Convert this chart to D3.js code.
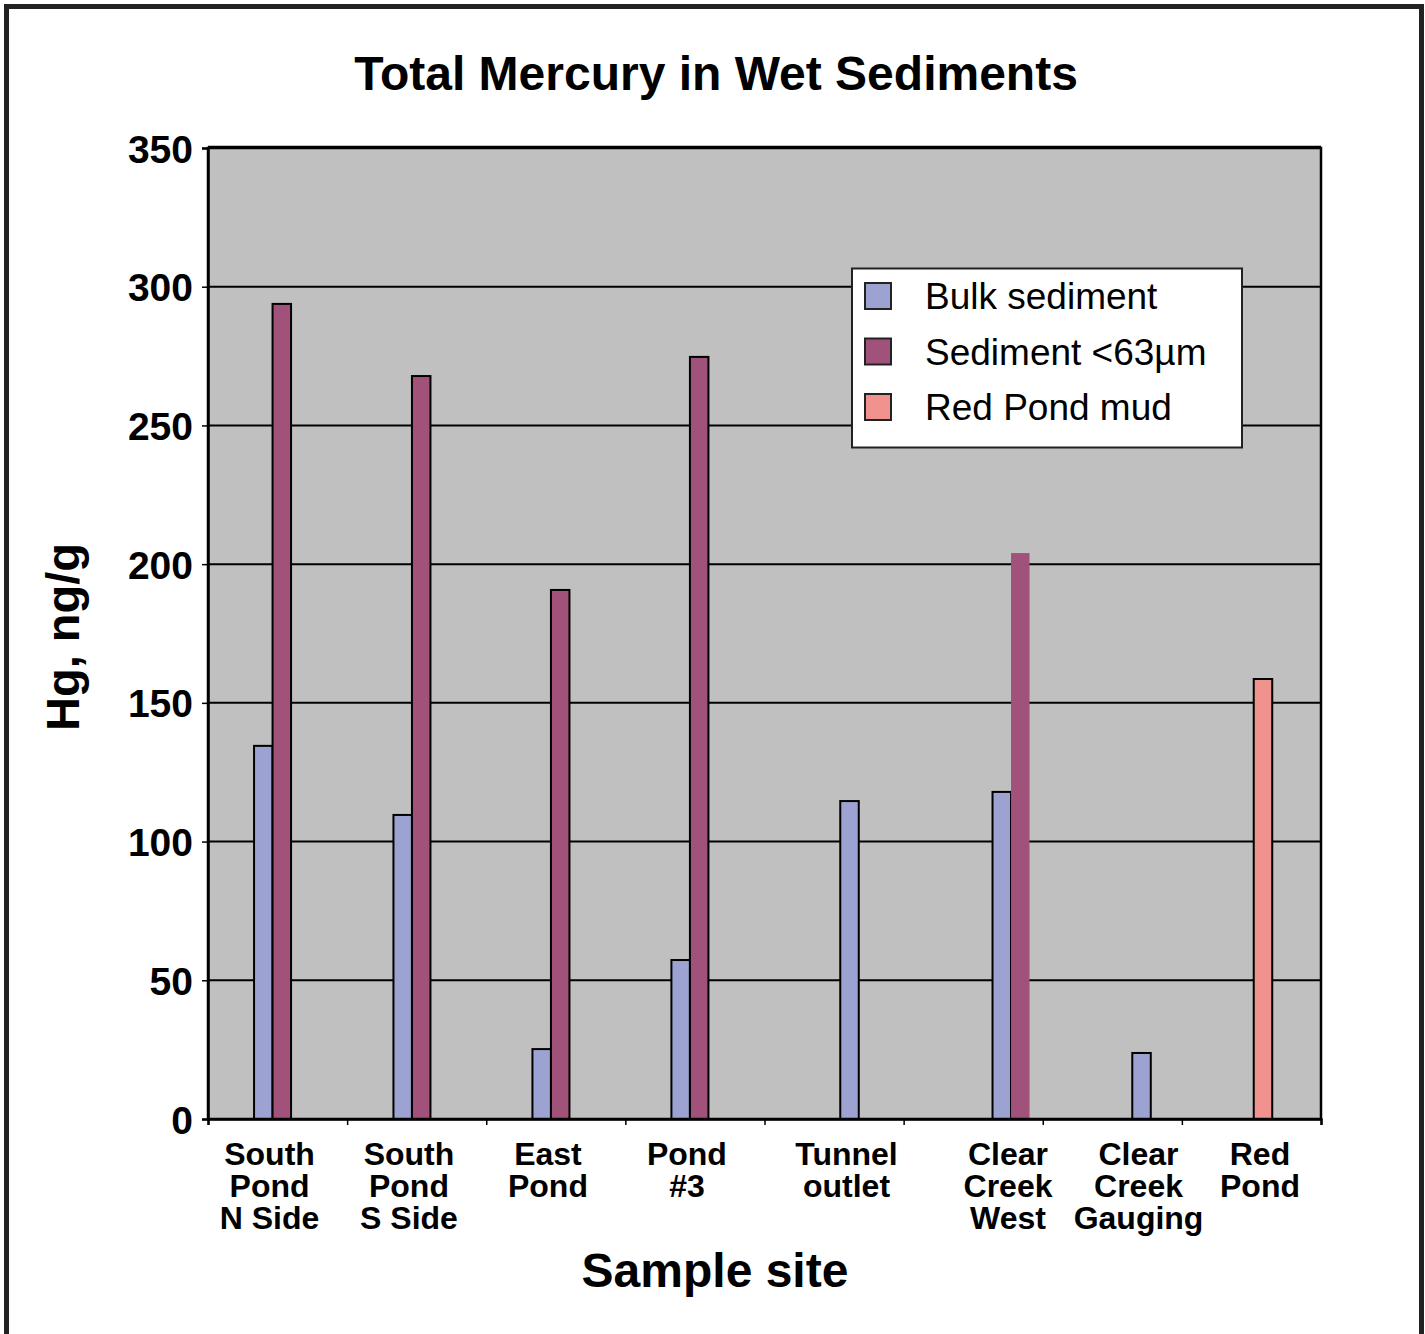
<!DOCTYPE html>
<html>
<head>
<meta charset="utf-8">
<script src="https://cdn.jsdelivr.net/npm/d3@7"></script>
<style>
  html, body { margin: 0; padding: 0; background: #fff; }
  svg { display: block; font-family: "Liberation Sans", Arial, Helvetica, sans-serif; }
</style>
</head>
<body>
<svg id="chart" width="1425" height="1334"></svg>
<script>
// ---- data ----
const categories = [
  ["South", "Pond", "N Side"],
  ["South", "Pond", "S Side"],
  ["East", "Pond"],
  ["Pond", "#3"],
  ["Tunnel", "outlet"],
  ["Clear", "Creek", "West"],
  ["Clear", "Creek", "Gauging"],
  ["Red", "Pond"]
];
// where each site's group sits along the category axis (in category units)
const sitePosition = [0.464, 1.466, 2.465, 3.464, 4.611, 5.772, 6.710, 7.583];
const seriesNames = ["Bulk sediment", "Sediment <63µm", "Red Pond mud"];
const bulkSediment = [134.5, 109.6, 25.2, 57.3, 114.6, 117.9, 23.8, null];
const fineSediment = [293.8, 267.8, 190.7, 274.7, null, 204.0, null, null];
const redPondMud   = [null, null, null, null, null, null, null, 158.6];
const yTicks = [0, 50, 100, 150, 200, 250, 300, 350];
const seriesColors = ["#9ca3d2", "#a0527a", "#f0938f"];

// ---- layout ----
const svg = d3.select("#chart");
const plot = { left: 208, right: 1321, top: 148, bottom: 1119 };

const x = d3.scaleLinear().domain([0, categories.length]).range([plot.left, plot.right]);
const y = d3.scaleLinear().domain([0, 350]).range([plot.bottom, plot.top]);
const barWidthUnits = 0.133;

// outer frame
svg.append("rect")
  .attr("x", 6.5).attr("y", 6.5).attr("width", 1415).attr("height", 1345)
  .attr("fill", "#fff").attr("stroke", "#222").attr("stroke-width", 5);

// plot background
svg.append("rect")
  .attr("x", plot.left).attr("y", plot.top)
  .attr("width", plot.right - plot.left).attr("height", plot.bottom - plot.top)
  .attr("fill", "#c0c0c0");

// gridlines
svg.append("g").selectAll("line").data(yTicks.filter(d => d > 0 && d < 350)).join("line")
  .attr("x1", plot.left).attr("x2", plot.right)
  .attr("y1", d => y(d)).attr("y2", d => y(d))
  .attr("stroke", "#000").attr("stroke-width", 2);

// bars
const seriesData = [bulkSediment, fineSediment, redPondMud];
const bars = [];
categories.forEach((c, i) => {
  const present = seriesData.map((s, k) => ({ k, v: s[i] })).filter(d => d.v != null);
  const n = present.length;
  present.forEach((d, j) => {
    const start = sitePosition[i] - n * barWidthUnits / 2 + j * barWidthUnits;
    bars.push({ cat: i, series: d.k, value: d.v, x0: start, x1: start + barWidthUnits });
  });
});
svg.append("g").selectAll("rect").data(bars).join("rect")
  .attr("x", d => x(d.x0))
  .attr("width", d => x(d.x1) - x(d.x0))
  .attr("y", d => y(d.value))
  .attr("height", d => y(0) - y(d.value))
  .attr("fill", d => seriesColors[d.series])
  .attr("stroke", d => (d.cat === 5 && d.series === 1) ? "none" : "#000")
  .attr("stroke-width", 2);

// plot border
svg.append("rect")
  .attr("x", plot.left).attr("y", plot.top)
  .attr("width", plot.right - plot.left).attr("height", plot.bottom - plot.top)
  .attr("fill", "none").attr("stroke", "#000").attr("stroke-width", 2.5);
svg.append("line")
  .attr("x1", plot.left).attr("x2", plot.right).attr("y1", plot.top - 1.5).attr("y2", plot.top - 1.5)
  .attr("stroke", "#000").attr("stroke-width", 1.5);

// y axis
const yAxis = d3.axisLeft(y).tickValues(yTicks).tickSize(6).tickPadding(9);
const gy = svg.append("g").attr("transform", `translate(${plot.left},0)`).call(yAxis);
gy.select(".domain").attr("stroke", "#000").attr("stroke-width", 2.5);
gy.selectAll(".tick line").attr("stroke", "#000").attr("stroke-width", 1.5);
gy.selectAll(".tick text")
  .attr("font-family", "Liberation Sans, Arial, sans-serif")
  .attr("font-size", 39).attr("font-weight", "bold").attr("fill", "#000")
  .attr("dy", "0.36em");

// x axis (category boundaries)
const xAxis = d3.axisBottom(x).tickValues(d3.range(0, categories.length + 1)).tickSize(6).tickFormat("");
const gx = svg.append("g").attr("transform", `translate(0,${plot.bottom})`).call(xAxis);
gx.select(".domain").attr("stroke", "#000").attr("stroke-width", 2.5);
gx.selectAll(".tick line").attr("stroke", "#000").attr("stroke-width", 1.5);

// category labels
const catLabels = svg.append("g")
  .attr("font-size", 32).attr("font-weight", "bold").attr("fill", "#000").attr("text-anchor", "middle");
categories.forEach((lines, i) => {
  const cx = x(sitePosition[i]) - 3;
  const t = catLabels.append("text").attr("x", cx).attr("y", 1165);
  lines.forEach((l, j) => {
    t.append("tspan").attr("x", cx).attr("dy", j === 0 ? 0 : 32).text(l);
  });
});

// title
svg.append("text")
  .attr("x", 716).attr("y", 90)
  .attr("text-anchor", "middle").attr("font-size", 48).attr("font-weight", "bold")
  .text("Total Mercury in Wet Sediments");

// axis titles
svg.append("text")
  .attr("x", 715).attr("y", 1287)
  .attr("text-anchor", "middle").attr("font-size", 48).attr("font-weight", "bold")
  .text("Sample site");
svg.append("text")
  .attr("transform", "translate(79,637) rotate(-90)")
  .attr("text-anchor", "middle").attr("font-size", 47).attr("font-weight", "bold")
  .text("Hg, ng/g");

// legend
const legend = svg.append("g");
legend.append("rect")
  .attr("x", 852).attr("y", 268.5).attr("width", 390).attr("height", 179)
  .attr("fill", "#fff").attr("stroke", "#222").attr("stroke-width", 2);
const legendY = d3.scalePoint().domain(seriesNames).range([296, 407]);
seriesNames.forEach((name, k) => {
  const cy = legendY(name);
  legend.append("rect")
    .attr("x", 865).attr("y", cy - 13).attr("width", 26).attr("height", 26)
    .attr("fill", seriesColors[k]).attr("stroke", "#222").attr("stroke-width", 2);
  legend.append("text")
    .attr("x", 925).attr("y", cy).attr("dy", "0.36em")
    .attr("font-size", 37).attr("fill", "#000")
    .text(name);
});
</script>
</body>
</html>
